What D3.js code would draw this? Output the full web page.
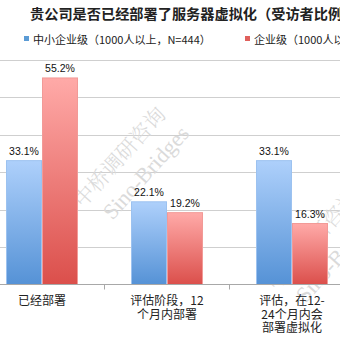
<!DOCTYPE html>
<html><head><meta charset="utf-8">
<script src="https://cdn.jsdelivr.net/npm/d3@7"></script>
<style>
html,body{margin:0;padding:0;background:#fff;overflow:hidden;}
svg{display:block;}
</style></head>
<body>
<svg id="chart" width="340" height="340"></svg>
<script>
const title = "贵公司是否已经部署了服务器虚拟化（受访者比例）";
const categories = ["已经部署", "评估阶段，12\n个月内部署", "评估，在12-\n24个月内会\n部署虚拟化"];
const seriesNames = ["中小企业级（1000人以上，N=444）", "企业级（1000人以上）"];
const smbValues = [33.1, 22.1, 33.1];
const entValues = [55.2, 19.2, 16.3];
const gridTicks = [10, 20, 30, 40, 50, 60];
const watermarkCn = "中桥调研咨询";
const watermarkEn = "Sino-Bridges";

const svg = d3.select("#chart");
const W = 340, H = 340;

const defs = svg.append("defs");
const grads = [
  {id: "gBlue", top: "#aed0fb", bot: "#5592d6"},
  {id: "gRed", top: "#ffaaa8", bot: "#db4f4b"}
];
grads.forEach(g => {
  const lg = defs.append("linearGradient").attr("id", g.id)
    .attr("x1", 0).attr("y1", 0).attr("x2", 0).attr("y2", 1);
  lg.append("stop").attr("offset", "0%").attr("stop-color", g.top);
  lg.append("stop").attr("offset", "100%").attr("stop-color", g.bot);
});
const fills = ["url(#gBlue)", "url(#gRed)"];
const strokes = ["#9cc2f0", "#f29a97"];
const legendColors = ["#5b9bd5", "#e0605c"];

const y = d3.scaleLinear().domain([0, 60]).range([284.5, 60]);
const x0 = d3.scaleBand().domain(categories).range([-20.5, 354.5]).paddingInner(0).paddingOuter(0);
const bw = x0.bandwidth();
const x1 = d3.scaleBand().domain(seriesNames).range([bw / 2 - 36, bw / 2 + 36]);

// gridlines
svg.append("g").selectAll("line").data(gridTicks).join("line")
  .attr("x1", 0).attr("x2", W)
  .attr("y1", d => Math.round(y(d)) + 0.5).attr("y2", d => Math.round(y(d)) + 0.5)
  .attr("stroke", "#cfcfcf").attr("stroke-width", 1);

// watermark
function watermark(cx, cy) {
  const g = svg.append("g").attr("transform", `translate(${cx},${cy}) rotate(-48)`)
    .attr("fill", "#dadada").attr("font-family", "'Noto Serif CJK SC','DejaVu Serif','Liberation Serif',serif");
  g.append("text").attr("x", 0).attr("y", 0).attr("text-anchor", "middle")
    .attr("font-size", 21).attr("font-weight", 300).text(watermarkCn);
  g.append("text").attr("x", 6).attr("y", 30).attr("text-anchor", "middle")
    .attr("font-size", 22).attr("font-family", "'Liberation Serif',serif").text(watermarkEn);
}
watermark(125, 162);
watermark(318, 245);

// bars
const data = categories.map((c, i) => ({cat: c, vals: [smbValues[i], entValues[i]]}));
const groups = svg.append("g").selectAll("g").data(data).join("g")
  .attr("transform", d => `translate(${x0(d.cat)},0)`);
groups.selectAll("rect").data(d => d.vals.map((v, j) => ({v, j, s: seriesNames[j]}))).join("rect")
  .attr("x", d => x1(d.s) + 0.5)
  .attr("width", x1.bandwidth() - 1)
  .attr("y", d => y(d.v))
  .attr("height", d => y(0) - y(d.v))
  .attr("fill", d => fills[d.j])
  .attr("stroke", d => strokes[d.j]).attr("stroke-width", 1);
groups.selectAll("text.val").data(d => d.vals.map((v, j) => ({v, j, s: seriesNames[j]}))).join("text")
  .attr("class", "val")
  .attr("x", d => x1(d.s) + x1.bandwidth() / 2)
  .attr("y", d => y(d.v) - 5.5)
  .attr("text-anchor", "middle")
  .attr("font-family", "'Liberation Sans',Arial,sans-serif")
  .attr("font-size", 10.5).attr("fill", "#111")
  .text(d => d.v.toFixed(1) + "%");

// x axis
const axis = svg.append("g").attr("transform", `translate(0,${y(0)})`);
axis.append("line").attr("x1", 0).attr("x2", W).attr("y1", 0).attr("y2", 0)
  .attr("stroke", "#a8a8a8").attr("stroke-width", 1);
const tickPos = categories.slice(1).map(c => x0(c));
axis.selectAll("line.tk").data(tickPos).join("line").attr("class", "tk")
  .attr("x1", d => d).attr("x2", d => d).attr("y1", 0).attr("y2", 5)
  .attr("stroke", "#a8a8a8");

// category labels
const labG = svg.append("g").attr("font-family", "'Noto Sans CJK SC',sans-serif")
  .attr("font-size", 12).attr("fill", "#222").attr("text-anchor", "middle");
categories.forEach(c => {
  const lines = c.split("\n");
  lines.forEach((ln, i) => {
    labG.append("text").attr("x", x0(c) + bw / 2).attr("y", 305 + i * 13.5).text(ln);
  });
});

// title
svg.append("text").attr("x", 30).attr("y", 19)
  .attr("font-family", "'Noto Sans CJK SC',sans-serif").attr("font-weight", "bold")
  .attr("font-size", 14.2).attr("fill", "#222").text(title);

// legend
const legX = [24, 245];
seriesNames.forEach((s, i) => {
  svg.append("rect").attr("x", legX[i]).attr("y", 36).attr("width", 5).attr("height", 5)
    .attr("fill", legendColors[i]);
  svg.append("text").attr("x", legX[i] + 9).attr("y", 43.5)
    .attr("font-family", "'Noto Sans CJK SC',sans-serif").attr("font-size", 11)
    .attr("fill", "#222").text(s);
});
</script>
</body></html>
